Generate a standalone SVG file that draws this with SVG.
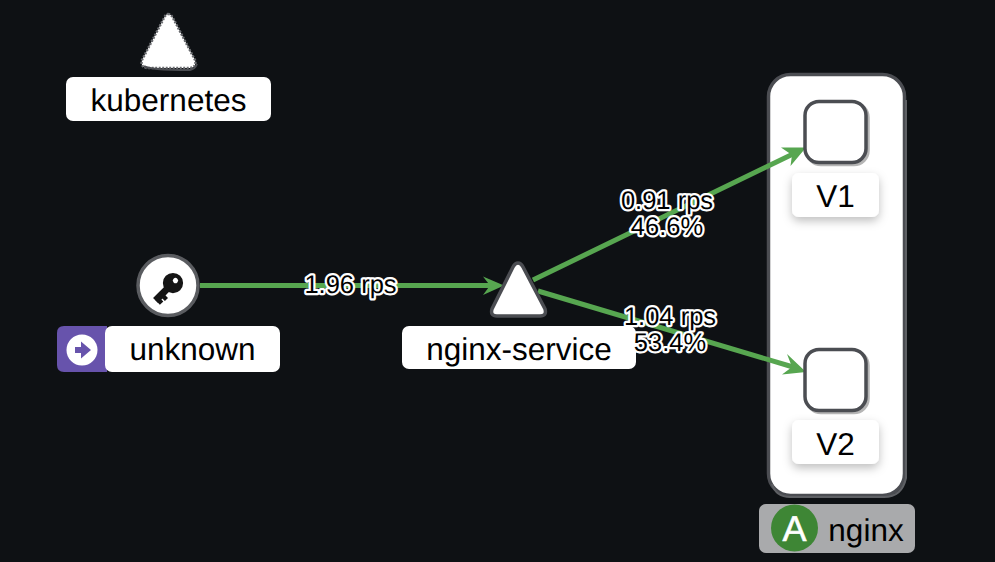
<svg xmlns="http://www.w3.org/2000/svg" width="995" height="562" viewBox="0 0 995 562">
<style>
text{font-family:"Liberation Sans",Arial,sans-serif;fill:#000;text-anchor:middle;text-rendering:geometricPrecision}
.lbl{font-size:31.500px}
.box{fill:#fff}
.edge{fill:none;stroke:#57a650;stroke-width:5}
.head{fill:#57a650}
.rate{font-size:25.500px;paint-order:stroke;stroke:#fff;stroke-width:4.500px;stroke-linejoin:round}
.node{fill:#fff;stroke:#4b4d52;stroke-width:3.500}
</style>
<defs>
<filter id="sh" x="-30%" y="-30%" width="160%" height="170%"><feDropShadow dx="0" dy="4" stdDeviation="5" flood-color="#000" flood-opacity=".25"/></filter>
</defs>
<rect width="995" height="562" fill="#0e1114"/>
<g id="n-nginx-app">
<rect x="768.500" y="74.500" width="136" height="421" rx="22" fill="#fff" stroke="#4b4d52" stroke-width="3.500"/>
<path d="M772 484Q776 497 790 497H884Q902 497 906 478V100" fill="none" stroke="#5e6064" stroke-width="2"/>
<rect x="759" y="504" width="156" height="49" rx="7" fill="#a9aaac"/>
<circle cx="794.500" cy="528" r="23.500" fill="#3e8635"/>
<text x="794.500" y="541" font-size="36" style="fill:#fff;stroke:#fff;stroke-width:.6">A</text>
<text x="866" y="541" class="lbl">nginx</text>
</g>
<g id="connectors">
<path class="edge" d="M533 280L793 154"/>
<path class="head" d="M781 147.500L806 147.500L790.500 166L792 155Z"/>
<path class="edge" d="M538 291L793 367"/>
<path class="head" d="M787 354L806 372L782 374.500L792 367Z"/>
<path class="edge" d="M200 285.500H492"/>
<path class="head" d="M483 276.500L504 285.500L483 295L490 285.500Z"/>
</g>
<g id="n-kubernetes">
<path d="M168 14Q171 14 173 18L195 60Q197 67 190 68H147Q140 67 142 60L164 18Q166 14 168 14Z" fill="#fff" stroke="#6a6c70" stroke-width="2.500" stroke-dasharray="2 1.500"/>
<path d="M144 66Q148 70 190 70Q195 69 197 64" fill="none" stroke="#4b4d52" stroke-width="2"/>
<rect class="box" x="66" y="77" width="205" height="44" rx="7"/>
<text x="168.500" y="111" class="lbl">kubernetes</text>
</g>
<g id="n-unknown">
<circle cx="168" cy="285.500" r="30" class="node" style="stroke:#5a5c60"/>
<g transform="translate(168 288) rotate(45) scale(.88)" fill="#151515">
<circle cx="0" cy="-8" r="11.500"/>
<rect x="-4" y="-1" width="8" height="21"/>
<rect x="-1" y="8" width="9" height="5"/>
<rect x="-1" y="14.500" width="8" height="5.500"/>
<circle cx="0" cy="-12" r="3" fill="#fff"/>
</g>
<path d="M64 326H107V372H64Q57 372 57 365V333Q57 326 64 326Z" fill="#6753ac"/>
<circle cx="82" cy="350" r="15.500" fill="#fff"/>
<path d="M75 347H81V341.500L91 350L81 358.500V353H75Z" fill="#6753ac"/>
<rect class="box" x="105" y="326" width="175" height="46" rx="7"/>
<text x="192.500" y="360" class="lbl">unknown</text>
</g>
<g id="n-nginx-service">
<path d="M518 263Q521 263 523 267L545 309Q547 316 540 316H497Q490 316 492 309L513 267Q515 263 518 263Z" class="node"/>
<rect class="box" x="402" y="326" width="234" height="43" rx="7"/>
<text x="519" y="360" class="lbl">nginx-service</text>
</g>
<g id="n-v1">
<rect x="805" y="101.500" width="61" height="61" rx="14" class="node" style="filter:drop-shadow(2px 2px 0 #b5b5b5)"/>
<rect class="box" x="792" y="173" width="87" height="44" rx="7" filter="url(#sh)"/>
<text x="835.500" y="207" class="lbl">V1</text>
</g>
<g id="n-v2">
<rect x="805" y="349.500" width="61" height="61" rx="14" class="node" style="filter:drop-shadow(2px 2px 0 #b5b5b5)"/>
<rect class="box" x="792" y="420" width="87" height="44" rx="7" filter="url(#sh)"/>
<text x="835.500" y="455" class="lbl">V2</text>
</g>
<g id="edge-labels">
<text class="rate" x="350.500" y="293">1.96 rps</text>
<text class="rate" x="667" y="209">0.91 rps</text>
<text class="rate" x="667" y="234.500">46.6%</text>
<text class="rate" x="670" y="325">1.04 rps</text>
<text class="rate" x="670" y="350.500">53.4%</text>
</g>
</svg>
